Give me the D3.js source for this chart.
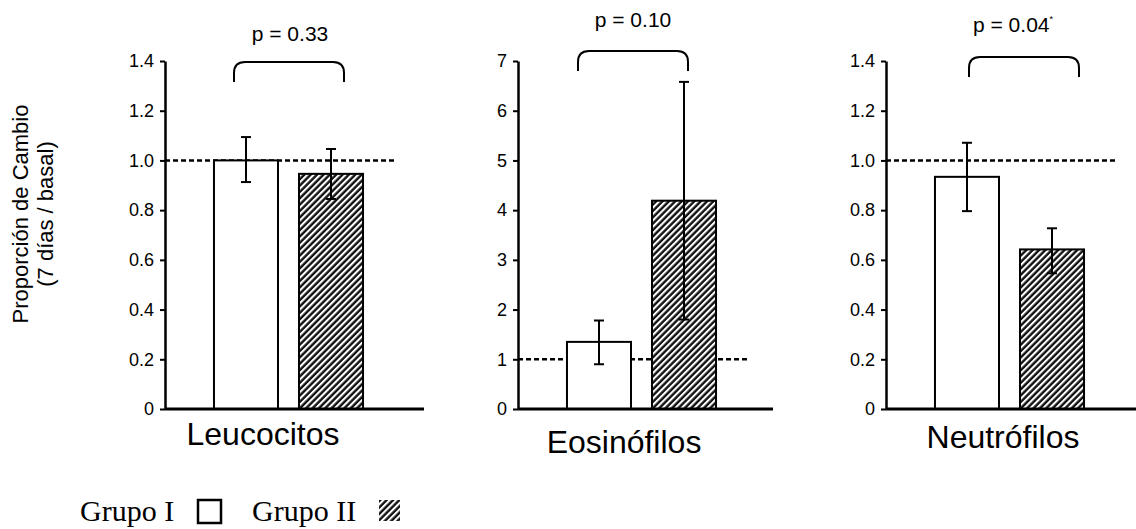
<!DOCTYPE html>
<html>
<head>
<meta charset="utf-8">
<script src="https://cdn.jsdelivr.net/npm/d3@7"></script>
<style>
  body { margin: 0; background: #fff; }
  svg { display: block; }
</style>
</head>
<body>
<svg id="chart" width="1136" height="529"></svg>
<script>

// data
const categories = ["Leucocitos", "Eosinófilos", "Neutrófilos"];
const groups = ["Grupo I", "Grupo II"];

const meanGrupoI  = [1.00, 1.35, 0.934];
const meanGrupoII = [0.946, 4.19, 0.642];

const lowGrupoI   = [0.913, 0.90, 0.796];
const highGrupoI  = [1.094, 1.78, 1.071];
const lowGrupoII  = [0.845, 1.80, 0.546];
const highGrupoII = [1.046, 6.58, 0.727];

const yMax = [1.4, 7, 1.4];
const tickValues = [
  [0, 0.2, 0.4, 0.6, 0.8, 1.0, 1.2, 1.4],
  [0, 1, 2, 3, 4, 5, 6, 7],
  [0, 0.2, 0.4, 0.6, 0.8, 1.0, 1.2, 1.4]
];
const tickLabels = [
  ["0", "0.2", "0.4", "0.6", "0.8", "1.0", "1.2", "1.4"],
  ["0", "1", "2", "3", "4", "5", "6", "7"],
  ["0", "0.2", "0.4", "0.6", "0.8", "1.0", "1.2", "1.4"]
];
const pLabels = ["p = 0.33", "p = 0.10", "p = 0.04"];
const pStar = [false, false, true];
const refLine = 1;

// layout (pixels)
const axisX = [165, 518, 886];
const axisEnd = [424, 773, 1136];
const bracketX = [69, 60, 83];   // offset from axis
const bracketTop = [62, 51, 57];
const pX = [125, 115, 127];
const pY = [41, 27, 32];
const catX = [98, 106, 117];
const catY = [445, 453, 448];
const plotTop = 61, plotBottom = 409;

const svg = d3.select("#chart");

// hatch pattern
const defs = svg.append("defs");
const pat = defs.append("pattern")
  .attr("id", "hatch")
  .attr("patternUnits", "userSpaceOnUse")
  .attr("width", 4.5).attr("height", 4.5)
  .attr("patternTransform", "rotate(45)");
pat.append("rect").attr("width", 4.5).attr("height", 4.5).attr("fill", "#fff");
pat.append("line")
  .attr("x1", 1.5).attr("y1", 0).attr("x2", 1.5).attr("y2", 4.5)
  .attr("stroke", "#111").attr("stroke-width", 2.4);

categories.forEach(function(cat, i) {

  let g = svg.append("g").attr("transform", "translate(" + axisX[i] + ",0)");

  let y = d3.scaleLinear().domain([0, yMax[i]]).range([plotBottom, plotTop]);
  let x = d3.scaleBand().domain(groups).range([0, 247])
    .paddingInner(0.247).paddingOuter(0.576);

  // y axis
  let yAxis = d3.axisLeft(y)
    .tickValues(tickValues[i])
    .tickFormat(function(d, k) { return tickLabels[i][k]; })
    .tickSize(5)
    .tickPadding(6)
    .tickSizeOuter(0);

  let ya = g.append("g").call(yAxis);
  ya.select(".domain").attr("stroke-width", 2.5);
  ya.selectAll(".tick line").attr("stroke-width", 2);
  ya.selectAll(".tick text")
    .attr("font-family", "'Liberation Sans', Arial, sans-serif")
    .attr("font-size", 18)
    .attr("fill", "#000");

  // reference line at 1
  g.append("line")
    .attr("x1", 0).attr("x2", 231)
    .attr("y1", y(refLine)).attr("y2", y(refLine))
    .attr("stroke", "#000")
    .attr("stroke-width", 2.5)
    .attr("stroke-dasharray", "5,3");

  let rows = [
    { grp: groups[0], v: meanGrupoI[i], lo: lowGrupoI[i], hi: highGrupoI[i], fill: "#fff" },
    { grp: groups[1], v: meanGrupoII[i], lo: lowGrupoII[i], hi: highGrupoII[i], fill: "url(#hatch)" }
  ];

  g.selectAll(".bar")
    .data(rows)
    .enter().append("rect")
    .attr("class", "bar")
    .attr("x", function(d) { return x(d.grp); })
    .attr("width", x.bandwidth())
    .attr("y", function(d) { return y(d.v); })
    .attr("height", function(d) { return plotBottom - y(d.v); })
    .attr("fill", function(d) { return d.fill; })
    .attr("stroke", "#000")
    .attr("stroke-width", 2);

  // error bars
  let eb = g.selectAll(".err").data(rows).enter().append("g").attr("class", "err")
    .attr("stroke", "#000").attr("stroke-width", 2);
  eb.append("line")
    .attr("x1", function(d) { return x(d.grp) + x.bandwidth() / 2; })
    .attr("x2", function(d) { return x(d.grp) + x.bandwidth() / 2; })
    .attr("y1", function(d) { return y(d.lo); })
    .attr("y2", function(d) { return y(d.hi); });
  [ "lo", "hi" ].forEach(function(k) {
    eb.append("line")
      .attr("x1", function(d) { return x(d.grp) + x.bandwidth() / 2 - 5; })
      .attr("x2", function(d) { return x(d.grp) + x.bandwidth() / 2 + 5; })
      .attr("y1", function(d) { return y(d[k]); })
      .attr("y2", function(d) { return y(d[k]); });
  });

  // x axis line
  g.append("line")
    .attr("x1", 0).attr("x2", axisEnd[i] - axisX[i])
    .attr("y1", plotBottom).attr("y2", plotBottom)
    .attr("stroke", "#000").attr("stroke-width", 3);

  // bracket
  let bx0 = bracketX[i], bx1 = bracketX[i] + 110, by = bracketTop[i], r = 9;
  g.append("path")
    .attr("d", "M" + bx0 + "," + (by + 20) +
      " L" + bx0 + "," + (by + r + 2) +
      " Q" + bx0 + "," + by + " " + (bx0 + r + 2) + "," + by +
      " L" + (bx1 - r - 2) + "," + by +
      " Q" + bx1 + "," + by + " " + bx1 + "," + (by + r + 2) +
      " L" + bx1 + "," + (by + 20))
    .attr("fill", "none")
    .attr("stroke", "#000")
    .attr("stroke-width", 2);

  let pt = g.append("text")
    .attr("x", pX[i]).attr("y", pY[i])
    .attr("text-anchor", "middle")
    .attr("font-family", "'Liberation Sans', Arial, sans-serif")
    .attr("font-size", 21)
    .attr("fill", "#000")
    .text(pLabels[i]);
  if (pStar[i]) {
    pt.append("tspan").attr("font-size", 9).attr("dy", -10).text("*");
  }

  // category label
  g.append("text")
    .attr("x", catX[i])
    .attr("y", catY[i])
    .attr("text-anchor", "middle")
    .attr("font-family", "'Liberation Sans', Arial, sans-serif")
    .attr("font-size", 32)
    .attr("fill", "#000")
    .text(cat);
});

// y title
let yt = svg.append("g").attr("transform", "translate(28,214) rotate(-90)");
yt.append("text")
  .attr("text-anchor", "middle")
  .attr("font-family", "'Liberation Sans', Arial, sans-serif")
  .attr("font-size", 22)
  .attr("fill", "#000")
  .text("Proporción de Cambio");
yt.append("text")
  .attr("y", 25)
  .attr("text-anchor", "middle")
  .attr("font-family", "'Liberation Sans', Arial, sans-serif")
  .attr("font-size", 22)
  .attr("fill", "#000")
  .text("(7 días / basal)");

// legend
const legend = svg.append("g").attr("font-family", "'Liberation Serif', 'Times New Roman', serif")
  .attr("font-size", 30).attr("fill", "#000");
legend.append("text").attr("x", 80).attr("y", 521).text(groups[0]);
legend.append("rect").attr("x", 198).attr("y", 500).attr("width", 23).attr("height", 23)
  .attr("fill", "#fff").attr("stroke", "#000").attr("stroke-width", 2.5);
legend.append("text").attr("x", 252).attr("y", 521).text(groups[1]);
legend.append("rect").attr("x", 379).attr("y", 500).attr("width", 21).attr("height", 21)
  .attr("fill", "url(#hatch)").attr("stroke", "none");

</script>
</body>
</html>
